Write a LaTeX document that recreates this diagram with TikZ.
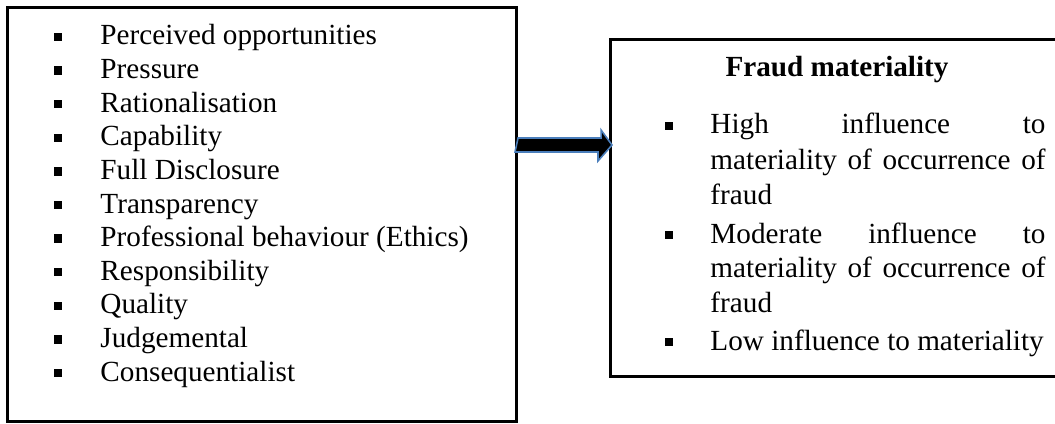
\documentclass[tikz,border=0pt]{standalone}
\usepackage{fontspec}
\setmainfont{Liberation Serif}
\begin{document}
\begin{tikzpicture}[x=0.411pt,y=-0.411pt,
  frame/.style={draw=black,line width=1.25pt,fill=none},
  item/.style={anchor=base west,inner sep=0pt,font=\fontsize{12}{14}\selectfont},
  bul/.style={fill=black,minimum size=3.5pt,inner sep=0pt,anchor=center},
  blockarrow/.style={draw={rgb,255:red,74;green,126;blue,187},line width=0.65pt,fill=black,line join=miter}]
\clip (0,0) rectangle (1055,424);
\fill[white] (0,0) rectangle (1055,424);
% left box
\node[frame,anchor=north west,minimum width=509*0.411pt,minimum height=414*0.411pt,inner sep=0pt] (L) at (6,6) {};
% right box (right edge outside the picture)
\node[frame,anchor=north west,minimum width=470*0.411pt,minimum height=337*0.411pt,inner sep=0pt] (R) at (609,38) {};
% left items
\foreach \t [count=\i from 0] in {Perceived opportunities,Pressure,Rationalisation,Capability,Full Disclosure,Transparency,Professional behaviour (Ethics),Responsibility,Quality,Judgemental,Consequentialist}{
  \node[item] (li\i) at (100,{45+33.6*\i}) {\t};
  \node[bul] (lb\i) at (58,{45+33.6*\i-8}) {};
}
% right box content
\node[anchor=base,inner sep=0pt,font=\fontsize{12}{14}\selectfont\bfseries] (title) at (837,77) {Fraud materiality};
\def\jw{137.7pt}
\node[item] (r1) at (710,134) {\makebox[\jw][s]{High\hfill influence\hfill to}};
\node[item] (r2) at (710,169) {\makebox[\jw][s]{materiality of occurrence of}};
\node[item] (r3) at (710,204) {fraud};
\node[item] (r4) at (710,243) {\makebox[\jw][s]{Moderate\hfill influence\hfill to}};
\node[item] (r5) at (710,277) {\makebox[\jw][s]{materiality of occurrence of}};
\node[item] (r6) at (710,312) {fraud};
\node[item] (r7) at (710,350) {Low influence to materiality};
\node[bul] (rb1) at (669,126) {};
\node[bul] (rb2) at (669,235) {};
\node[bul] (rb3) at (669,342) {};
% block arrow from L to R
\coordinate (aS) at (L.east |- 0,145);
\coordinate (aT) at (R.west |- 0,145);
\draw[blockarrow] ([shift={(0,-7)}]aS) -- ++(83,0) -- ++(0,-8) -- ([shift={(3,0)}]aT) -- ++(-14,16) -- ++(0,-9) -- ++(-83,0) -- cycle;
\end{tikzpicture}
\end{document}
